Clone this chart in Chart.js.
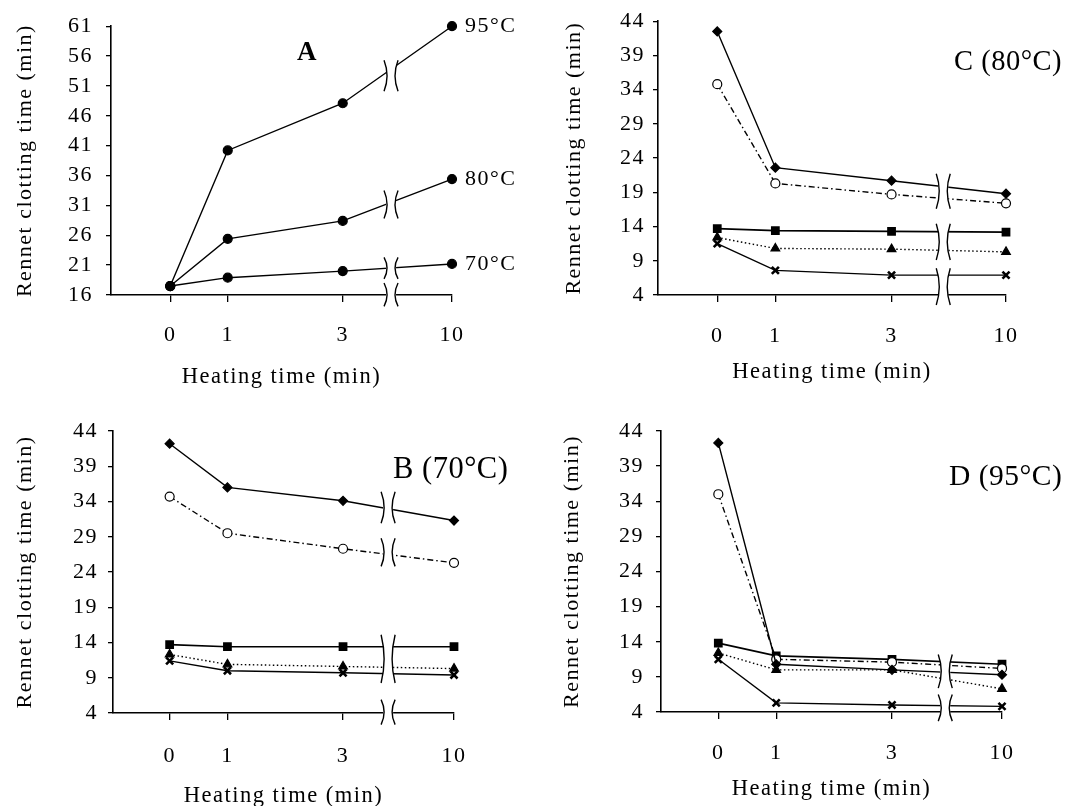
<!DOCTYPE html>
<html>
<head>
<meta charset="utf-8">
<title>Rennet clotting time vs heating time</title>
<script src="https://cdn.jsdelivr.net/npm/chart.js@4.4.1/dist/chart.umd.min.js"></script>
<style>
  html, body { margin: 0; padding: 0; background: #fff; overflow: hidden; }
  #figure { position: relative; width: 1071px; height: 806px; overflow: hidden; background: #fff; }
  #figure canvas { position: absolute; }
</style>
</head>
<body>
<div id="figure">
  <canvas id="chartA" width="540" height="400" style="left:0;top:0"></canvas>
  <canvas id="chartC" width="531" height="400" style="left:540px;top:0"></canvas>
  <canvas id="chartB" width="540" height="420" style="left:0;top:400px"></canvas>
  <canvas id="chartD" width="531" height="420" style="left:540px;top:400px"></canvas>
</div>
<script>
// heating time (min) and its tick labels
const heatingTimes = [0, 1, 3, 10];
const heatingLabels = ['0', '1', '3', '10'];

// y tick labels
const yTicksA = [16, 21, 26, 31, 36, 41, 46, 51, 56, 61];
const yTicksBCD = [4, 9, 14, 19, 24, 29, 34, 39, 44];

// A: rennet clotting time after heating at 95, 80, 70 °C
const tempLabels = ['95°C', '80°C', '70°C'];
const a95 = [17.5, 40.2, 48.1, 61.0];
const a80 = [17.5, 25.4, 28.4, 35.4];
const a70 = [17.5, 18.9, 20.0, 21.2];

// B (70°C)
const bDiamond  = [42.2, 36.0, 34.1, 31.3];
const bCircle   = [34.7, 29.5, 27.3, 25.3];
const bSquare   = [13.7, 13.4, 13.4, 13.4];
const bTriangle = [12.3, 10.9, 10.6, 10.3];
const bCross    = [11.4, 10.0, 9.7, 9.4];

// C (80°C)
const cDiamond  = [42.5, 22.6, 20.7, 18.8];
const cCircle   = [34.8, 20.3, 18.7, 17.4];
const cSquare   = [13.7, 13.4, 13.3, 13.2];
const cTriangle = [12.4, 10.8, 10.7, 10.3];
const cCross    = [11.5, 7.6, 6.9, 6.9];

// D (95°C)
const dDiamond  = [42.3, 10.8, 10.0, 9.3];
const dCircle   = [35.0, 11.5, 11.1, 10.2];
const dSquare   = [13.8, 12.0, 11.5, 10.8];
const dTriangle = [12.4, 10.0, 10.0, 7.3];
const dCross    = [11.5, 5.3, 5.0, 4.8];

const INK = '#000';
Chart.defaults.font.family = '"Liberation Serif", "Times New Roman", serif';
Chart.defaults.color = INK;

// broken x axis: 0..3 linear, then a break, then 10
function axisPos(t, tenAt) {
  return t <= 3 ? t : tenAt;
}

const spacingPlugin = {
  id: 'spacing',
  beforeDraw(chart) { chart.ctx.letterSpacing = '1.5px'; }
};

const breakPlugin = {
  id: 'axisBreaks',
  afterDraw(chart, args, opts) {
    if (!opts.ranges) return;
    const {ctx, scales: {x, y}} = chart;
    const cx = x.getPixelForValue(opts.at);
    const xl = cx - opts.gap / 2, xr = cx + opts.gap / 2;
    ctx.save();
    opts.ranges.forEach(([lo, hi]) => {
      const top = y.getPixelForValue(hi), bot = y.getPixelForValue(lo);
      const mid = (top + bot) / 2;
      ctx.fillStyle = '#fff';
      ctx.fillRect(xl, top, xr - xl, bot - top);
      ctx.strokeStyle = INK;
      ctx.lineWidth = 1.4;
      ctx.beginPath();
      ctx.moveTo(xl - 2, top);
      ctx.quadraticCurveTo(xl + 4, mid, xl - 2, bot);
      ctx.moveTo(xr + 2, top);
      ctx.quadraticCurveTo(xr - 4, mid, xr + 2, bot);
      ctx.stroke();
    });
    ctx.restore();
  }
};

const panelTitlePlugin = {
  id: 'panelTitle',
  afterDraw(chart, args, opts) {
    if (!opts.text) return;
    const ctx = chart.ctx;
    ctx.save();
    ctx.letterSpacing = '0.5px';
    ctx.font = opts.font;
    ctx.fillStyle = INK;
    ctx.textAlign = opts.align || 'left';
    ctx.textBaseline = 'middle';
    ctx.fillText(opts.text, opts.x, opts.y);
    ctx.restore();
  }
};

const endLabelPlugin = {
  id: 'endLabels',
  afterDatasetsDraw(chart, args, opts) {
    if (!opts.labels) return;
    const ctx = chart.ctx;
    ctx.save();
    ctx.font = '22px "Liberation Serif", serif';
    ctx.fillStyle = INK;
    ctx.textBaseline = 'middle';
    chart.data.datasets.forEach((ds, i) => {
      const pts = chart.getDatasetMeta(i).data;
      const p = pts[pts.length - 1];
      ctx.fillText(opts.labels[i], p.x + opts.dx, p.y);
    });
    ctx.restore();
  }
};

function points(values, tenAt) {
  return heatingTimes.map((t, i) => ({x: axisPos(t, tenAt), y: values[i]}));
}

function sampleSets(diamond, circle, square, triangle, cross, tenAt) {
  return [
    {label: 'diamond', data: points(diamond, tenAt), pointStyle: 'rectRot', pointRadius: 4.5},
    {label: 'circle', data: points(circle, tenAt), pointStyle: 'circle', pointRadius: 4.5,
     pointBackgroundColor: '#fff', borderDash: [6, 3, 1.5, 3]},
    {label: 'square', data: points(square, tenAt), pointStyle: 'rect', pointRadius: 5, borderWidth: 1.7},
    {label: 'triangle', data: points(triangle, tenAt), pointStyle: 'triangle', pointRadius: 5,
     borderDash: [1.5, 2.5]},
    {label: 'cross', data: points(cross, tenAt), pointStyle: 'crossRot', pointRadius: 5, pointBorderWidth: 2.6}
  ];
}

function makeChart(id, datasets, yTicks, p) {
  const canvas = document.getElementById(id);
  const W = canvas.width, H = canvas.height;
  const a = p.area;
  datasets.forEach(ds => { ds.clip = false; });
  return new Chart(canvas, {
    type: 'line',
    data: {datasets},
    options: {
      responsive: false,
      animation: false,
      events: [],
      layout: {padding: {left: 0, right: W - a.right, top: a.top, bottom: 0}},
      elements: {
        line: {borderColor: INK, borderWidth: 1.4, tension: 0},
        point: {backgroundColor: INK, borderColor: INK, borderWidth: 1.2}
      },
      plugins: {
        legend: {display: false},
        tooltip: {enabled: false},
        axisBreaks: {at: p.breakAt, gap: 10, ranges: p.breaks},
        panelTitle: p.title,
        endLabels: p.endLabels || {}
      },
      scales: {
        x: {
          type: 'linear', min: p.xMin, max: p.tenAt,
          afterBuildTicks: s => { s.ticks = heatingTimes.map(t => ({value: axisPos(t, p.tenAt)})); },
          afterFit: s => { s.height = H - a.bottom; },
          ticks: {callback: (v, i) => heatingLabels[i], padding: p.xTickPad, font: {size: 22},
                  color: INK, maxRotation: 0, autoSkip: false},
          grid: {drawOnChartArea: false, drawTicks: true, tickLength: 7, color: INK, lineWidth: 1.3},
          border: {color: INK, width: 1.6},
          title: {display: true, text: 'Heating time (min)', font: {size: 22.5}, color: INK,
                  padding: {top: 0, bottom: p.xTitlePad}}
        },
        y: {
          type: 'linear', min: yTicks[0], max: yTicks[yTicks.length - 1],
          afterBuildTicks: s => { s.ticks = yTicks.map(v => ({value: v})); },
          afterFit: s => { s.width = a.left; },
          ticks: {padding: p.yTickPad, font: {size: 22}, color: INK, autoSkip: false},
          grid: {drawOnChartArea: false, drawTicks: true, tickLength: 5, color: INK, lineWidth: 1.3},
          border: {color: INK, width: 1.6},
          title: {display: true, text: 'Rennet clotting time (min)', font: {size: 22}, color: INK,
                  padding: {top: p.yTitlePad, bottom: 0}}
        }
      }
    },
    plugins: [spacingPlugin, breakPlugin, panelTitlePlugin, endLabelPlugin]
  });
}

// panel A
const aSets = [a95, a80, a70].map((vals, i) => ({
  label: tempLabels[i], data: points(vals, 4.9), pointStyle: 'circle', pointRadius: 4.5
}));
makeChart('chartA', aSets, yTicksA, {
  area: {left: 111, right: 452, top: 20, bottom: 295},
  xMin: -1.03, tenAt: 4.9, breakAt: 3.84,
  breaks: [[50.1, 55.3], [28.8, 33.5], [18.7, 22.3], [14.1, 18.0]],
  xTickPad: 20, xTitlePad: 9, yTickPad: 13, yTitlePad: 12,
  title: {text: 'A', x: 307, y: 53, align: 'center', font: 'bold 27px "Liberation Serif", serif'},
  endLabels: {labels: tempLabels, dx: 13}
});

// panel C (80°C)
makeChart('chartC', sampleSets(cDiamond, cCircle, cSquare, cTriangle, cCross, 4.97), yTicksBCD, {
  area: {left: 118, right: 466, top: 19, bottom: 295},
  xMin: -1.02, tenAt: 4.97, breakAt: 3.89,
  breaks: [[16.6, 21.7], [9.1, 14.4], [2.55, 7.9]],
  xTickPad: 21, xTitlePad: 14, yTickPad: 8, yTitlePad: 21,
  title: {text: 'C (80°C)', x: 414, y: 63, font: '28.5px "Liberation Serif", serif'}
});

// panel B (70°C)
makeChart('chartB', sampleSets(bDiamond, bCircle, bSquare, bTriangle, bCross, 4.92), yTicksBCD, {
  area: {left: 113, right: 454, top: 31, bottom: 313},
  xMin: -0.98, tenAt: 4.92, breakAt: 3.78,
  breaks: [[30.9, 35.4], [24.8, 28.8], [8.25, 15.1], [2.35, 5.9]],
  xTickPad: 23, xTitlePad: 10, yTickPad: 10, yTitlePad: 12,
  title: {text: 'B (70°C)', x: 393, y: 70, font: '30.5px "Liberation Serif", serif'}
});

// panel D (95°C)
makeChart('chartD', sampleSets(dDiamond, dCircle, dSquare, dTriangle, dCross, 4.9), yTicksBCD, {
  area: {left: 121, right: 462, top: 31, bottom: 312},
  xMin: -0.99, tenAt: 4.9, breakAt: 3.92,
  breaks: [[7.4, 12.2], [2.7, 6.5]],
  xTickPad: 21, xTitlePad: 17, yTickPad: 12, yTitlePad: 19,
  title: {text: 'D (95°C)', x: 409, y: 77, font: '29.5px "Liberation Serif", serif'}
});
</script>
</body>
</html>
